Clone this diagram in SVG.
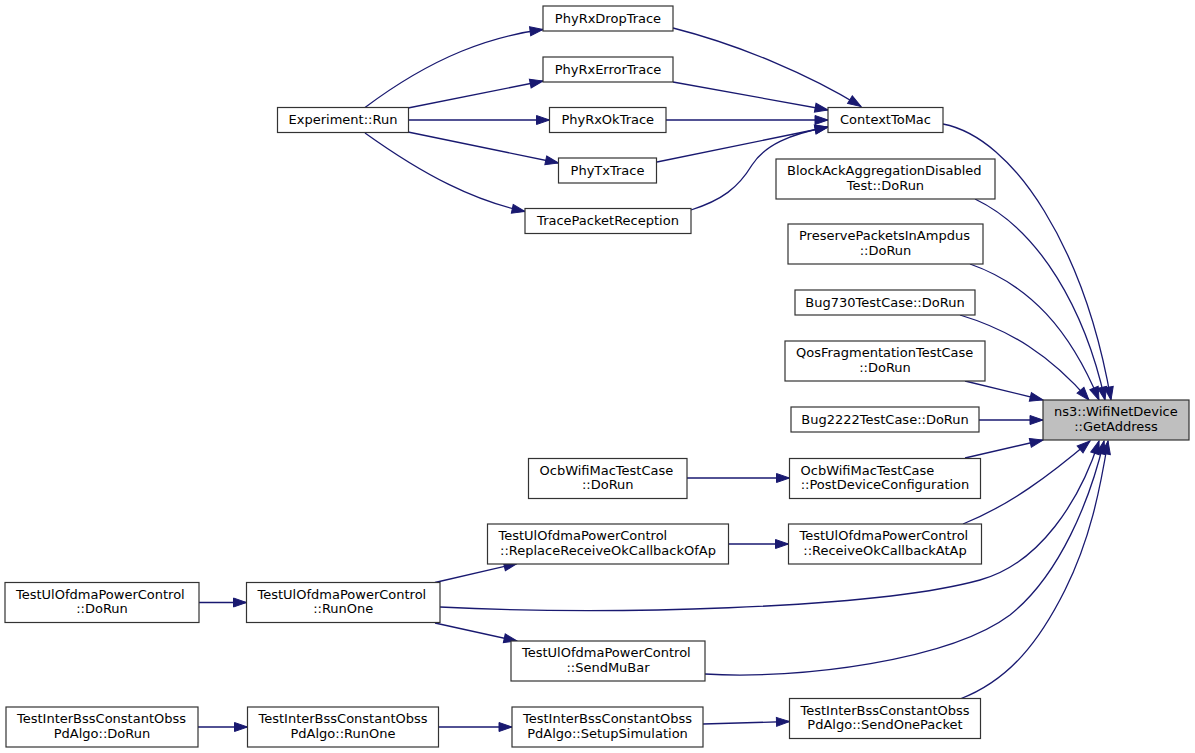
<svg xmlns="http://www.w3.org/2000/svg" width="1195" height="753" viewBox="0 0 1195 753">
<style>
.n rect{fill:#ffffff;stroke:#333333;stroke-width:1.2}
.root rect{fill:#bfbfbf}
text{font-family:"DejaVu Sans","Liberation Sans",sans-serif;font-size:13px;fill:#000}
.m{text-anchor:middle}
.s{text-anchor:start}
#edges path{fill:none;stroke:#191970;stroke-width:1.3;marker-end:url(#ah)}
</style>
<defs>
<marker id="ah" markerUnits="userSpaceOnUse" markerWidth="15" markerHeight="11" refX="13" refY="5" orient="auto" overflow="visible">
<path d="M0,0.5 L13,5 L0,9.5 z" fill="#191970" stroke="#191970" stroke-width="1"/>
</marker>
</defs>
<rect width="1195" height="753" fill="#ffffff"/>
<g id="edges">
<path d="M365,107.5 C435,55 493,36 543,29.5"/>
<path d="M408,108 L543,81"/>
<path d="M408,120 L549.5,120"/>
<path d="M408,132 L558.5,163"/>
<path d="M365,133 C425,176 475,201 525,211.5"/>
<path d="M673,28 C740,45 810,75 861,106.5"/>
<path d="M673,82 L828,110"/>
<path d="M666,120 L828,120"/>
<path d="M657,162 L828,127"/>
<path d="M691,210 C722,200 738,188 752,165 C765,145 790,134 828,127"/>
<path d="M943,124 C1015,138 1085,250 1111,400"/>
<path d="M975,199 C1040,230 1085,310 1105,400"/>
<path d="M970,264 C1030,285 1070,330 1099,400"/>
<path d="M960,315 C1010,330 1050,355 1089,400"/>
<path d="M965,381 L1043,400"/>
<path d="M979,420 L1043,420"/>
<path d="M965,458 L1043,440"/>
<path d="M963,524 C1010,505 1050,475 1090,441"/>
<path d="M440,607 C600,615 870,610 980,580 C1040,563.6 1080,500 1099,441"/>
<path d="M705,674 C800,680 950,660 1010,615 C1060,575 1090,500 1104,441"/>
<path d="M960,699 C1010,680 1040,640 1065,590 C1090,540 1100,490 1108,441"/>
<path d="M687,478 L789.5,478"/>
<path d="M728.5,544 L788.5,544"/>
<path d="M435,582.5 L517,563.5"/>
<path d="M435,623 L517,641"/>
<path d="M199,602.5 L246.5,602.5"/>
<path d="M198,727 L247.5,727"/>
<path d="M438.5,727 L512,727"/>
<path d="M703,724 L789.5,721.5"/>
</g>
<g id="n_exp" class="n"><rect x="277.5" y="107.5" width="131" height="25"/><text class="m" x="343" y="124">Experiment::Run</text></g>
<g id="n_drop" class="n"><rect x="543" y="6" width="130" height="25"/><text class="m" x="608" y="22.5">PhyRxDropTrace</text></g>
<g id="n_err" class="n"><rect x="543" y="57" width="130" height="25"/><text class="m" x="608" y="73.5">PhyRxErrorTrace</text></g>
<g id="n_ok" class="n"><rect x="549.5" y="107.5" width="116.5" height="25"/><text class="m" x="607.75" y="124">PhyRxOkTrace</text></g>
<g id="n_tx" class="n"><rect x="558.5" y="158" width="98" height="25"/><text class="m" x="607.5" y="174.5">PhyTxTrace</text></g>
<g id="n_tpr" class="n"><rect x="525" y="208.5" width="166" height="25"/><text class="m" x="608" y="225">TracePacketReception</text></g>
<g id="n_ctm" class="n"><rect x="828" y="107.5" width="115" height="25"/><text class="m" x="885.5" y="124">ContextToMac</text></g>
<g id="n_blk" class="n"><rect x="776" y="159" width="219" height="40"/><text class="s" x="787" y="175">BlockAckAggregationDisabled</text><text class="m" x="885.5" y="189.5">Test::DoRun</text></g>
<g id="n_ppa" class="n"><rect x="788" y="224" width="195" height="40"/><text class="s" x="799" y="240">PreservePacketsInAmpdus</text><text class="m" x="885.5" y="254.5">::DoRun</text></g>
<g id="n_b730" class="n"><rect x="795" y="290" width="180" height="25"/><text class="m" x="885" y="306.5">Bug730TestCase::DoRun</text></g>
<g id="n_qos" class="n"><rect x="785" y="341" width="200" height="40"/><text class="s" x="796" y="357">QosFragmentationTestCase</text><text class="m" x="885" y="371.5">::DoRun</text></g>
<g id="n_b2222" class="n"><rect x="791" y="407" width="188" height="25"/><text class="m" x="885" y="423.5">Bug2222TestCase::DoRun</text></g>
<g id="n_ga" class="n root"><rect x="1043" y="400" width="146" height="40"/><text class="s" x="1054" y="416">ns3::WifiNetDevice</text><text class="m" x="1116" y="430.5">::GetAddress</text></g>
<g id="n_ocbd" class="n"><rect x="528.5" y="458.5" width="158.5" height="40"/><text class="s" x="539.5" y="474.5">OcbWifiMacTestCase</text><text class="m" x="607.75" y="489">::DoRun</text></g>
<g id="n_ocbp" class="n"><rect x="789.5" y="458.5" width="191" height="40"/><text class="s" x="800.5" y="474.5">OcbWifiMacTestCase</text><text class="m" x="885" y="489">::PostDeviceConfiguration</text></g>
<g id="n_rep" class="n"><rect x="487.5" y="524" width="241" height="40"/><text class="s" x="498.5" y="540">TestUlOfdmaPowerControl</text><text class="m" x="608" y="554.5">::ReplaceReceiveOkCallbackOfAp</text></g>
<g id="n_rok" class="n"><rect x="788.5" y="524" width="193" height="40"/><text class="s" x="799.5" y="540">TestUlOfdmaPowerControl</text><text class="m" x="885" y="554.5">::ReceiveOkCallbackAtAp</text></g>
<g id="n_udo" class="n"><rect x="5" y="582.5" width="194" height="40"/><text class="s" x="16" y="598.5">TestUlOfdmaPowerControl</text><text class="m" x="102" y="613">::DoRun</text></g>
<g id="n_urun" class="n"><rect x="246.5" y="582.5" width="193.5" height="40"/><text class="s" x="257.5" y="598.5">TestUlOfdmaPowerControl</text><text class="m" x="343.25" y="613">::RunOne</text></g>
<g id="n_mub" class="n"><rect x="511" y="641" width="194" height="40"/><text class="s" x="522" y="657">TestUlOfdmaPowerControl</text><text class="m" x="608" y="671.5">::SendMuBar</text></g>
<g id="n_ido" class="n"><rect x="6" y="707" width="192" height="40"/><text class="s" x="17" y="723">TestInterBssConstantObss</text><text class="m" x="102" y="737.5">PdAlgo::DoRun</text></g>
<g id="n_irun" class="n"><rect x="247.5" y="707" width="191" height="40"/><text class="s" x="258.5" y="723">TestInterBssConstantObss</text><text class="m" x="343" y="737.5">PdAlgo::RunOne</text></g>
<g id="n_setup" class="n"><rect x="512" y="707" width="191" height="40"/><text class="s" x="523" y="723">TestInterBssConstantObss</text><text class="m" x="607.5" y="737.5">PdAlgo::SetupSimulation</text></g>
<g id="n_send" class="n"><rect x="789.5" y="698.5" width="191" height="40"/><text class="s" x="800.5" y="714.5">TestInterBssConstantObss</text><text class="m" x="885" y="729">PdAlgo::SendOnePacket</text></g>
</svg>
